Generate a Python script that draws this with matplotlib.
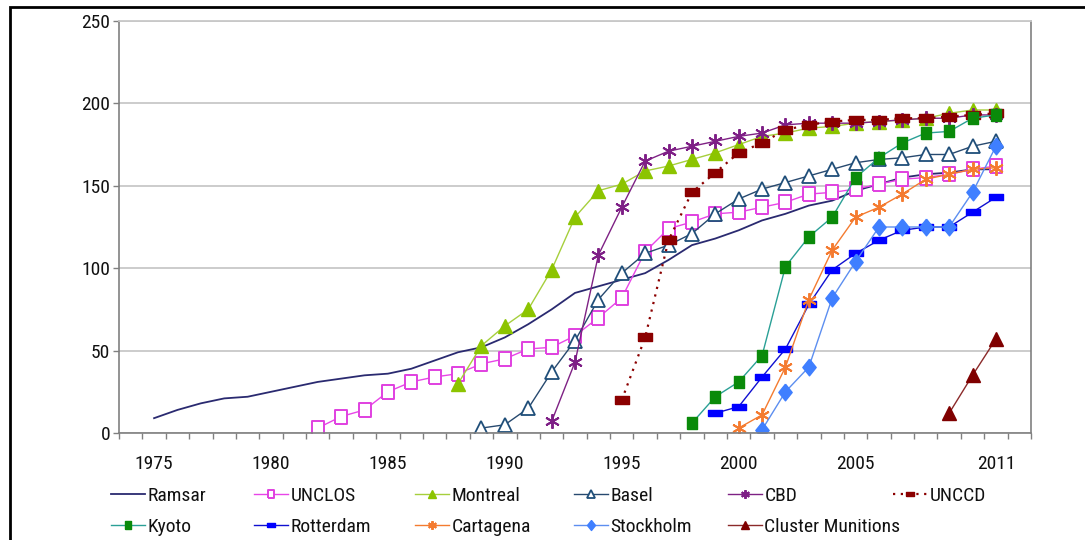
import matplotlib
matplotlib.use('Agg')
import matplotlib.pyplot as plt
from matplotlib import font_manager
from matplotlib.font_manager import FontProperties
from matplotlib.patches import Rectangle
import numpy as np

# ---------------- data ----------------
tick_years = [1975, 1980, 1985, 1990, 1995, 2000, 2005, 2011]
tick_labels = ['1975', '1980', '1985', '1990', '1995', '2000', '2005', '2011']
y_ticks = [0, 50, 100, 150, 200, 250]

ramsar_start = 1975
ramsar = [9, 14, 18, 21, 22, 25, 28, 31, 33, 35, 36, 39, 44, 49, 52, 58, 66, 75, 85, 89,
          93, 97, 105, 114, 118, 123, 129, 133, 138, 141, 147, 151, 155, 157, 158, 160, 160]
unclos_start = 1982
unclos = [3, 10, 14, 25, 31, 34, 36, 42, 45, 51, 52, 59, 70, 82, 110, 124, 128, 133, 134,
          137, 140, 145, 146, 148, 151, 154, 155, 157, 160, 162]
montreal_start = 1988
montreal = [30, 53, 65, 75, 99, 131, 147, 151, 159, 162, 166, 170, 175, 180, 182, 185, 186,
            188, 189, 190, 191, 194, 196, 196]
basel_start = 1989
basel = [3, 5, 15, 37, 56, 81, 97, 109, 114, 121, 133, 142, 148, 152, 156, 160, 164, 166,
         167, 169, 169, 174, 177]
cbd_start = 1992
cbd = [7, 43, 108, 137, 165, 171, 174, 177, 180, 182, 187, 188, 188, 188, 189, 190, 191,
       191, 193, 193]
unccd_start = 1995
unccd = [20, 58, 117, 146, 158, 170, 176, 184, 187, 189, 190, 190, 191, 191, 192, 193, 194]
kyoto_start = 1998
kyoto = [6, 22, 31, 47, 101, 119, 131, 155, 167, 176, 182, 183, 191, 193]
rotterdam_start = 1999
rotterdam = [12, 16, 34, 51, 78, 99, 109, 117, 123, 125, 125, 134, 143]
cartagena_start = 2000
cartagena = [3, 11, 40, 81, 111, 131, 137, 145, 154, 157, 160, 161]
stockholm_start = 2001
stockholm = [2, 25, 40, 82, 104, 125, 125, 125, 125, 146, 174]
cluster_start = 2009
cluster = [12, 35, 57]

# ---------------- fonts: prefer a narrow / condensed sans ----------------
def pick_font():
    prefs = ['Liberation Sans Narrow', 'Arial Narrow', 'Roboto Condensed',
             'Open Sans Condensed', 'Noto Sans Condensed', 'Noto Sans', 'Open Sans',
             'DejaVu Sans Condensed', 'DejaVu Sans', 'Roboto']
    found = []
    for f in font_manager.fontManager.ttflist:
        name = f.name
        st = f.stretch
        if isinstance(st, str):
            condensed = st in ('condensed', 'semi-condensed', 'extra-condensed',
                               'ultra-condensed')
        else:
            condensed = st < 500
        narrow = condensed or 'Narrow' in name or 'Condensed' in name \
            or 'Narrow' in f.fname or 'Condensed' in f.fname
        if not narrow:
            continue
        if f.style != 'normal':
            continue
        w = f.weight
        if isinstance(w, str):
            if w not in ('normal', 'regular', 'book', 'roman', 'medium'):
                continue
        elif not (350 <= w <= 500):
            continue
        fn = f.fname.lower()
        if 'bold' in fn or 'italic' in fn or 'light' in fn or 'semi' in fn \
                or 'extra' in fn or 'thin' in fn or 'black' in fn:
            continue
        found.append(f)
    for p in prefs:
        for f in found:
            if f.name == p:
                return f.fname
    if found:
        return found[0].fname
    return None

narrow_file = pick_font()
if narrow_file:
    FS = 14
    def fp(size=FS):
        return FontProperties(fname=narrow_file, size=size)
else:
    FS = 13
    def fp(size=FS):
        return FontProperties(family=['Liberation Sans', 'DejaVu Sans'], size=size)

# ---------------- markers ----------------
tall_rect = [(-0.8, -1), (0.8, -1), (0.8, 1), (-0.8, 1), (-0.8, -1)]
kyoto_rect = [(-0.75, -1), (0.75, -1), (0.75, 1), (-0.75, 1), (-0.75, -1)]
wide_rect = [(-1, -0.55), (1, -0.55), (1, 0.55), (-1, 0.55), (-1, -0.55)]
thin_rect = [(-1, -0.45), (1, -0.45), (1, 0.45), (-1, 0.45), (-1, -0.45)]
diamond = [(0, 1), (0.8, 0), (0, -1), (-0.8, 0), (0, 1)]
asterisk = (6, 2, 0)

W, H = 1085, 540
fig = plt.figure(figsize=(W / 100, H / 100), dpi=100)
fig.patch.set_facecolor('white')

ax = fig.add_axes([119 / W, 1 - 433 / H, (1031 - 119) / W, (433 - 21) / H])

def yrs(start, vals):
    return np.arange(start, start + len(vals))

lines = {}
lw = 1.0
lines['Ramsar'] = ax.plot(yrs(ramsar_start, ramsar), ramsar, color='#2A2A70', lw=1.3,
                          label='Ramsar')[0]
lines['UNCLOS'] = ax.plot(yrs(unclos_start, unclos), unclos, color='#E845E8', lw=lw,
                          marker=tall_rect, ms=10, mfc='white', mec='#E040E0', mew=1.4,
                          label='UNCLOS')[0]
lines['Montreal'] = ax.plot(yrs(montreal_start, montreal), montreal, color='#A6CF3C', lw=lw,
                            marker='^', ms=9.5, mfc='#8CC400', mec='#8CC400',
                            label='Montreal')[0]
lines['Basel'] = ax.plot(yrs(basel_start, basel), basel, color='#27496F', lw=lw,
                         marker='^', ms=9.5, mfc='white', mec='#1F4E79', mew=1.3,
                         label='Basel')[0]
lines['CBD'] = ax.plot(yrs(cbd_start, cbd), cbd, color='#7E2184', lw=lw,
                       marker=asterisk, ms=10.5, mec='#7E1F86', mew=1.4,
                       label='CBD')[0]
lines['UNCCD'] = ax.plot(yrs(unccd_start, unccd), unccd, color='#8B0000', lw=1.6,
                         ls=(0, (1, 2.5)), marker=wide_rect, ms=10, mfc='#8B0000',
                         mec='#8B0000', label='UNCCD')[0]
lines['Kyoto'] = ax.plot(yrs(kyoto_start, kyoto), kyoto, color='#2AA096', lw=lw,
                         marker=kyoto_rect, ms=9, mfc='#0A8A0A', mec='#0A8A0A',
                         label='Kyoto')[0]
lines['Rotterdam'] = ax.plot(yrs(rotterdam_start, rotterdam), rotterdam, color='#1010D0',
                             lw=lw, marker=thin_rect, ms=10, mfc='#0000FF', mec='#0000FF',
                             label='Rotterdam')[0]
lines['Cartagena'] = ax.plot(yrs(cartagena_start, cartagena), cartagena, color='#F47B30',
                             lw=lw, marker=asterisk, ms=10.5, mec='#F47B30', mew=1.4,
                             label='Cartagena')[0]
lines['Stockholm'] = ax.plot(yrs(stockholm_start, stockholm), stockholm, color='#5C8EF0',
                             lw=lw, marker=diamond, ms=12, mfc='#3F7FFF', mec='#3F7FFF',
                             label='Stockholm')[0]
lines['Cluster Munitions'] = ax.plot(yrs(cluster_start, cluster), cluster, color='#8B2A2A',
                                     lw=lw, marker='^', ms=9.5, mfc='#7F0000', mec='#7F0000',
                                     label='Cluster Munitions')[0]

# ---------------- axes styling ----------------
ax.set_xlim(1973.5, 2012.5)
ax.set_ylim(0, 250)
ax.set_xticks(tick_years)
ax.set_xticklabels(tick_labels)
ax.set_xticks(np.arange(1973.5, 2013, 1.0), minor=True)
ax.set_yticks(y_ticks)
ax.tick_params(axis='x', which='major', length=0, pad=15.5, labelcolor='#111111')
ax.tick_params(axis='x', which='minor', length=4.3, width=1, color='#808080', direction='out')
ax.tick_params(axis='y', which='major', length=4.3, width=1, color='#808080', pad=2,
               labelcolor='#111111')
for lbl in ax.get_xticklabels() + ax.get_yticklabels():
    lbl.set_fontproperties(fp())
ax.yaxis.grid(True, color='#C8C8C8', lw=1.3)
ax.set_axisbelow(True)
for side in ['left', 'bottom', 'right']:
    ax.spines[side].set_color('#808080')
    ax.spines[side].set_linewidth(1.2)
ax.spines['top'].set_color('#C8C8C8')
ax.spines['top'].set_linewidth(1.3)

# ---------------- legend (one per column) ----------------
columns = [['Ramsar', 'Kyoto'], ['UNCLOS', 'Rotterdam'], ['Montreal', 'Cartagena'],
           ['Basel', 'Stockholm'], ['CBD', 'Cluster Munitions'], ['UNCCD']]
col_x = [111, 254, 415, 574, 728, 893]
for names, x0 in zip(columns, col_x):
    leg = fig.legend([lines[n] for n in names], names, loc='upper left',
                     bbox_to_anchor=(x0 / W, 1 - 487 / H), frameon=False, prop=fp(),
                     borderpad=0, borderaxespad=0, handlelength=1.75, handletextpad=0.12,
                     labelspacing=0.66, markerscale=0.6, numpoints=1)
    for t in leg.get_texts():
        t.set_color('#111111')

# ---------------- outer frame ----------------
fig.patches.append(Rectangle((10 / W, -0.1), 1.2, 1.1 - 7.5 / H, transform=fig.transFigure,
                             fill=False, ec='black', lw=2, clip_on=False))

fig.savefig('out.png', dpi=100)
